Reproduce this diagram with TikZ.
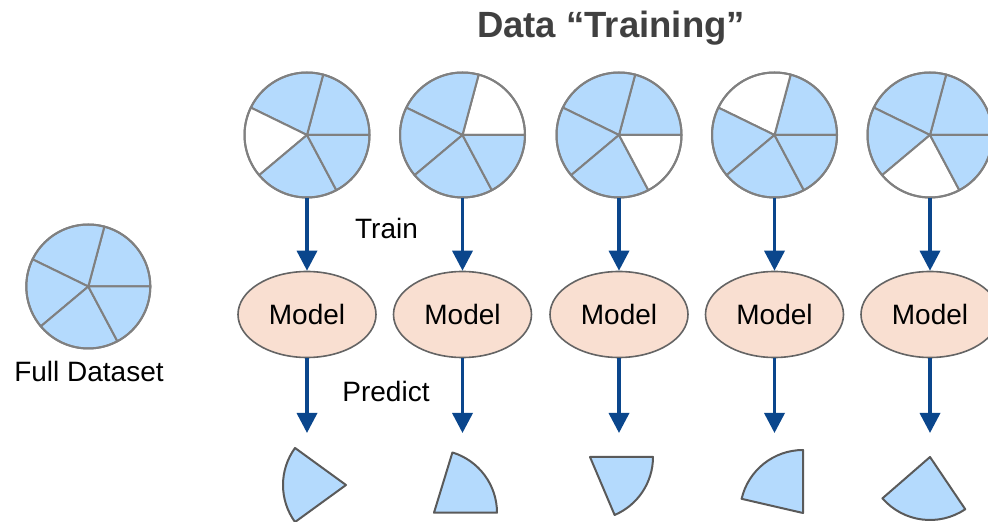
\documentclass[tikz,border=0pt]{standalone}
\usepackage{fontspec}
\setmainfont{Liberation Sans}
\usetikzlibrary{arrows.meta,shapes.geometric}
\definecolor{pieblue}{RGB}{180,218,253}
\definecolor{pieline}{RGB}{128,128,128}
\definecolor{wedgeline}{RGB}{90,90,90}
\definecolor{modelfill}{RGB}{249,223,209}
\definecolor{modelline}{RGB}{100,100,100}
\definecolor{arrowblue}{RGB}{10,70,140}
\definecolor{titlegray}{RGB}{64,64,64}
\newcommand{\drawpie}[3]{%
  \foreach \a/\b [count=\i] in {0/75,75/154,154/220,220/298,298/360}{%
    \ifnum\i=#3 \def\fc{white}\else\def\fc{pieblue}\fi
    \filldraw[slice,fill=\fc] (#1.center) -- ++(\a:#2) arc[start angle=\a,end angle=\b,radius=#2] -- cycle;
  }%
  \draw[slice] (#1.center) circle[radius=#2];
}
\newcommand{\drawwedge}[3]{%
  \filldraw[wedgeshape] (#1) -- ++(#2:63pt) arc[start angle=#2,end angle=#3,radius=63pt] -- cycle;
}
\begin{document}
\begin{tikzpicture}[x=1pt,y=1pt,
  pienode/.style={circle,minimum size=125pt,inner sep=0pt,draw=none},
  slice/.style={draw=pieline,line width=2pt,line join=round},
  model/.style={ellipse,draw=modelline,line width=1.6pt,fill=modelfill,minimum width=138pt,minimum height=86pt,inner sep=0pt,font=\fontsize{28}{32}\selectfont},
  flow/.style={draw=arrowblue,line width=3.5pt,-{Triangle[width=20pt,length=20pt]}},
  txt/.style={font=\fontsize{28}{32}\selectfont,anchor=base,inner sep=0pt},
  titletxt/.style={font=\fontsize{36.5}{40}\selectfont\bfseries,text=titlegray,anchor=base,inner sep=0pt},
  wedgeshape/.style={fill=pieblue,draw=wedgeline,line width=2pt,line join=round}]
\useasboundingbox (0,0) rectangle (988,522);
\clip (0,0) rectangle (988,522);

\node[titletxt] (title) at (611,484.5) {Data “Training”};

% full dataset
\node[pienode] (full) at (88.3,235.5) {};
\drawpie{full}{62pt}{0}
\node[txt] (fulllbl) at (89,140.3) {Full Dataset};

% training pies
\node[pienode] (p1) at (307,387) {};
\node[pienode] (p2) at (462.5,387) {};
\node[pienode] (p3) at (619,387) {};
\node[pienode] (p4) at (774.5,387) {};
\node[pienode] (p5) at (930,387) {};
\drawpie{p1}{62.5pt}{3}
\drawpie{p2}{62.5pt}{1}
\drawpie{p3}{62.5pt}{5}
\drawpie{p4}{62.5pt}{2}
\drawpie{p5}{62.5pt}{4}

% models
\node[model] (m1) at (307,207.5) {Model};
\node[model] (m2) at (462.5,207.5) {Model};
\node[model] (m3) at (619,207.5) {Model};
\node[model] (m4) at (774.5,207.5) {Model};
\node[model] (m5) at (930,207.5) {Model};

% labels
\node[txt] (train) at (386.5,283) {Train};
\node[txt] (predict) at (386,120.3) {Predict};

% arrows
\foreach \i in {1,...,5}{
  \draw[flow] (p\i.south) -- (m\i.north);
}
\coordinate (t1) at (307,89);
\coordinate (t2) at (462.5,89);
\coordinate (t3) at (619,89);
\coordinate (t4) at (774.5,89);
\coordinate (t5) at (930,89);
\foreach \i in {1,...,5}{
  \draw[flow] (m\i.south) -- (t\i);
}

% predicted wedges
\coordinate (w1) at (346,37);
\coordinate (w2) at (434,9.3);
\coordinate (w3) at (590,65);
\coordinate (w4) at (803,9);
\coordinate (w5) at (930,65);
\drawwedge{w1}{144}{216}
\drawwedge{w2}{0}{73}
\drawwedge{w3}{293}{360}
\drawwedge{w4}{90}{167}
\drawwedge{w5}{221}{304}
\end{tikzpicture}
\end{document}
